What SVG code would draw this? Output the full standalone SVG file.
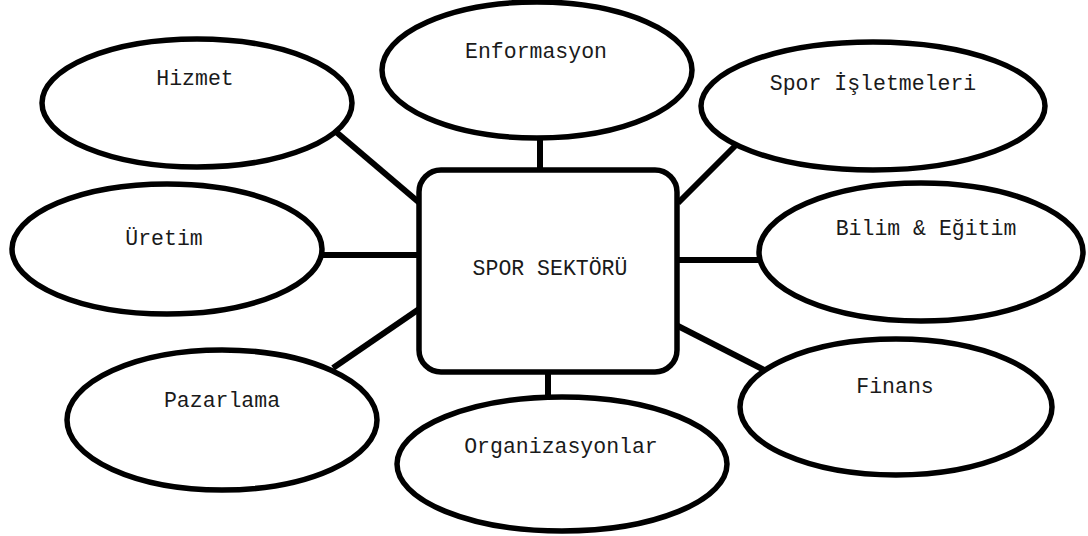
<svg xmlns="http://www.w3.org/2000/svg" width="1088" height="536" viewBox="0 0 1088 536">
<style>
.bg{fill:#ffffff}
.conn line{stroke:#000;stroke-width:6;stroke-linecap:butt}
.node ellipse,.node rect{fill:#fff;stroke:#000;stroke-width:5.5}
.node text{font-family:"Liberation Mono","DejaVu Sans Mono",monospace;font-size:21.5px;fill:#1a1a1a;text-anchor:middle}
</style>
<rect class="bg" x="0" y="0" width="1088" height="536"/>
<g id="connectors" class="conn">
<line x1="540" y1="135" x2="540" y2="172"/>
<line x1="335" y1="131" x2="422" y2="205"/>
<line x1="740" y1="141" x2="678" y2="203"/>
<line x1="320" y1="255" x2="422" y2="255"/>
<line x1="676" y1="260" x2="762" y2="260"/>
<line x1="333" y1="368" x2="422" y2="307"/>
<line x1="676" y1="325" x2="768" y2="372"/>
<line x1="548" y1="370" x2="548" y2="400"/>
</g>
<g id="node-center" class="node">
<rect x="419" y="170" width="258" height="202" rx="22" ry="22"/>
<text x="550" y="275">SPOR SEKTÖRÜ</text>
</g>
<g id="node-hizmet" class="node">
<ellipse cx="197" cy="103" rx="155" ry="64"/>
<text x="195" y="85">Hizmet</text>
</g>
<g id="node-enformasyon" class="node">
<ellipse cx="537" cy="70" rx="155" ry="68"/>
<text x="536" y="58">Enformasyon</text>
</g>
<g id="node-spor-isletmeleri" class="node">
<ellipse cx="873" cy="106" rx="172" ry="64"/>
<text x="873" y="90">Spor İşletmeleri</text>
</g>
<g id="node-uretim" class="node">
<ellipse cx="167" cy="249" rx="155" ry="65"/>
<text x="164" y="245">Üretim</text>
</g>
<g id="node-bilim" class="node">
<ellipse cx="921" cy="252" rx="162" ry="69"/>
<text x="926" y="235">Bilim &amp; Eğitim</text>
</g>
<g id="node-pazarlama" class="node">
<ellipse cx="222" cy="420" rx="155" ry="70"/>
<text x="222" y="407">Pazarlama</text>
</g>
<g id="node-organizasyonlar" class="node">
<ellipse cx="562" cy="464" rx="165" ry="67"/>
<text x="561" y="453">Organizasyonlar</text>
</g>
<g id="node-finans" class="node">
<ellipse cx="896" cy="407" rx="156" ry="68"/>
<text x="895" y="393">Finans</text>
</g>
</svg>
